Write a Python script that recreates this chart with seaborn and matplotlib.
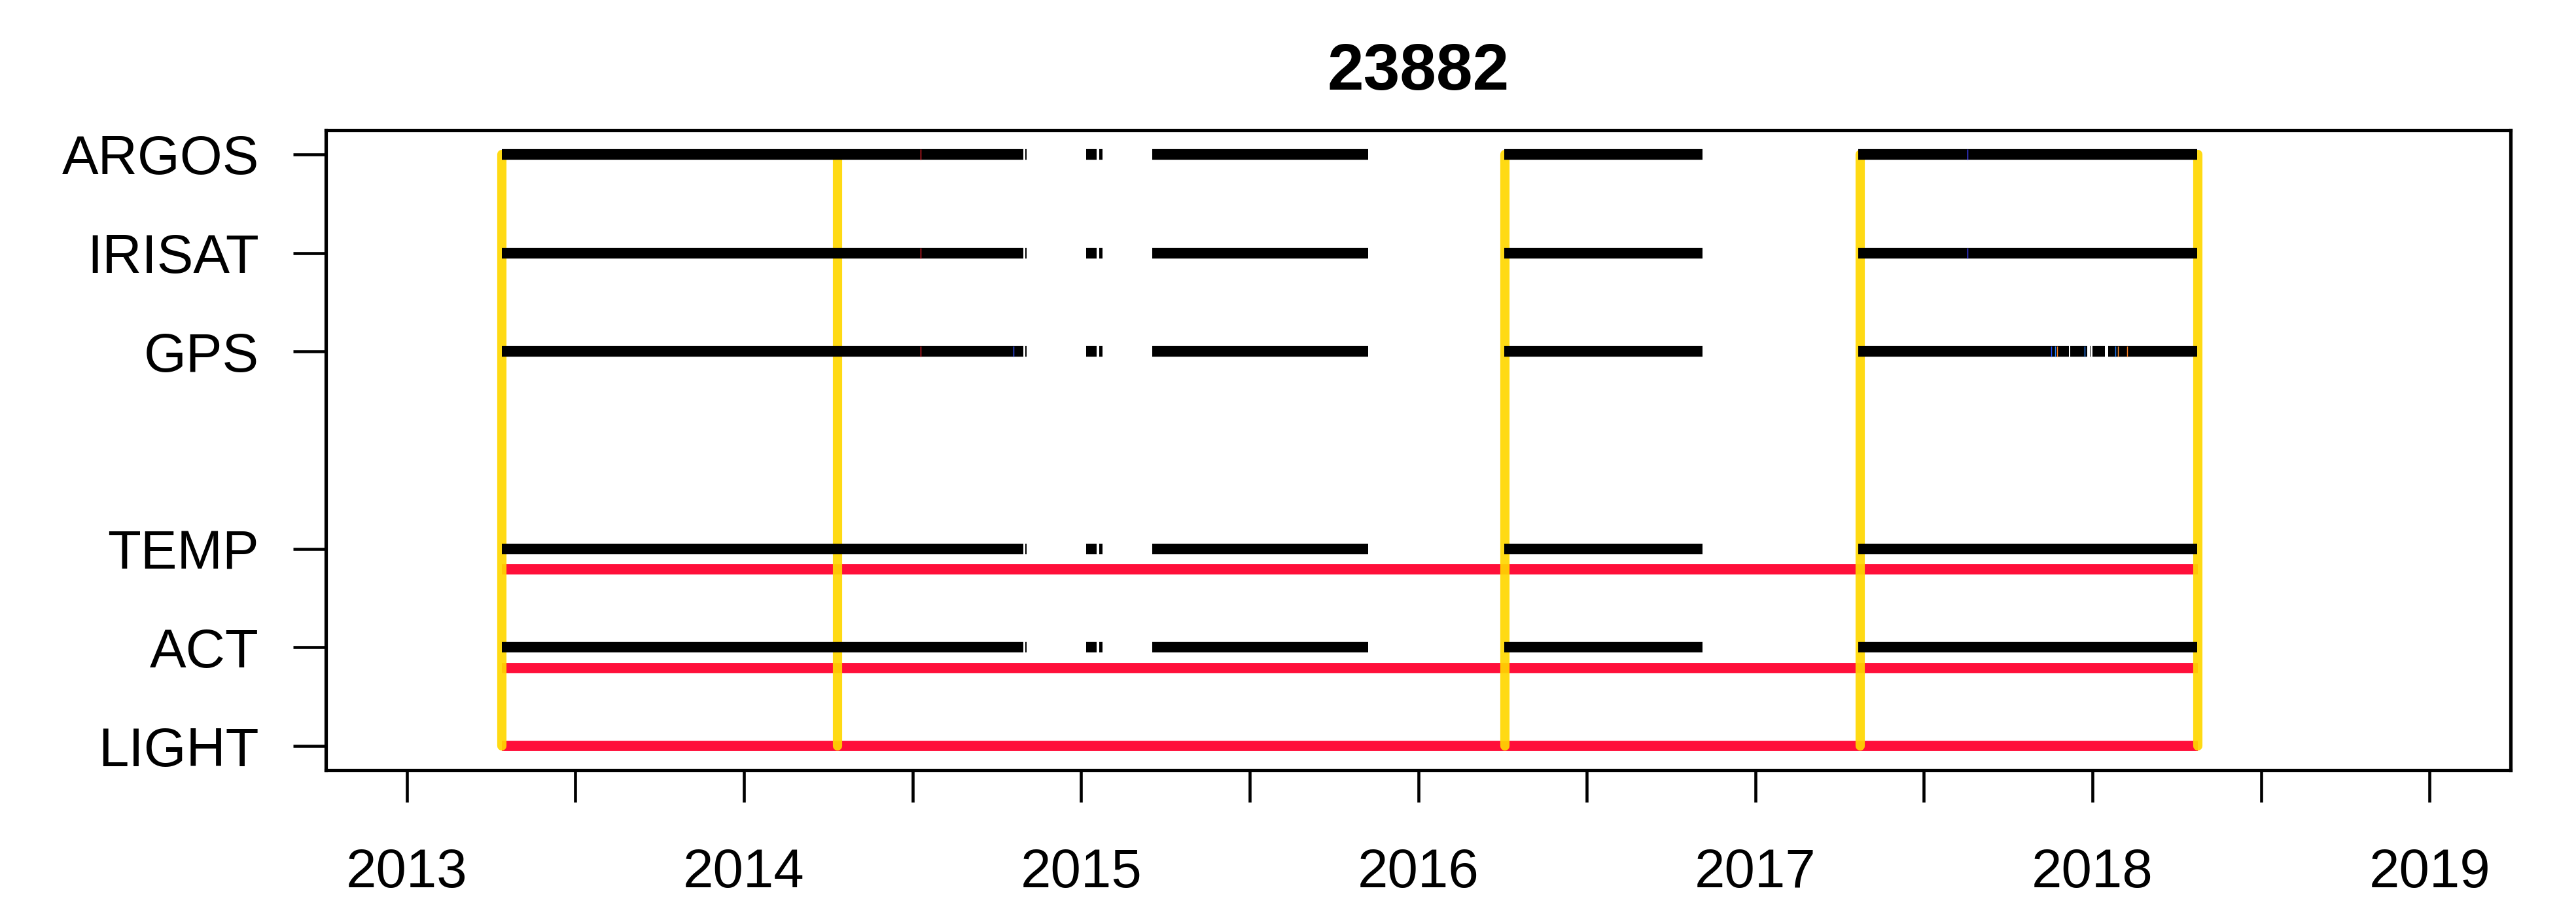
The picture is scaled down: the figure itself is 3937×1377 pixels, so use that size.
import matplotlib
matplotlib.use("Agg")
import matplotlib.pyplot as plt
import numpy as np
import pandas as pd
import seaborn as sns

TITLE = "23882"

# channel rows, top to bottom
ROWS = ["ARGOS", "IRISAT", "GPS", "TEMP", "ACT", "LIGHT"]
ROW_POS = {"ARGOS": 7, "IRISAT": 6, "GPS": 5, "TEMP": 3, "ACT": 2, "LIGHT": 1}

# tag deployment / retrieval dates (decimal years)
deploy_years = [2013.283, 2014.277, 2016.258, 2017.310, 2018.313]

# periods with data (decimal years), shared by the satellite-type channels
data_periods = [
    (2013.283, 2014.828),
    (2014.834, 2014.838),
    (2015.016, 2015.047),
    (2015.054, 2015.064),
    (2015.211, 2015.852),
    (2016.256, 2016.844),
    (2017.306, 2018.310),
]
# GPS had a few dropouts early 2018
gps_periods = [
    (2013.283, 2014.828),
    (2014.834, 2014.838),
    (2015.016, 2015.047),
    (2015.054, 2015.064),
    (2015.211, 2015.852),
    (2016.256, 2016.844),
    (2017.306, 2017.930),
    (2017.934, 2017.984),
    (2017.993, 2017.995),
    (2017.999, 2018.037),
    (2018.047, 2018.310),
]
black_channels = {
    "ARGOS": data_periods,
    "IRISAT": data_periods,
    "GPS": gps_periods,
    "TEMP": data_periods,
    "ACT": data_periods,
}

# continuous sensor records (red)
sensor_rows = ["TEMP", "ACT", "LIGHT"]
sensor_start = [2013.283, 2013.283, 2013.283]
sensor_end = [2018.313, 2018.313, 2018.313]

# odd single fixes that show up as thin coloured stripes
fix_rows = ["ARGOS", "IRISAT", "GPS", "GPS", "GPS", "GPS", "GPS", "GPS", "GPS", "GPS", "ARGOS", "IRISAT", "GPS"]
fix_years = [2014.524, 2014.524, 2014.524, 2017.878, 2017.889, 2017.895, 2017.976,
             2018.067, 2018.076, 2018.102, 2017.630, 2017.630, 2014.800]
fix_colors = ["#E0202A", "#E0202A", "#E0202A", "#2050FF", "#2080FF", "#FF8020", "#2080FF",
              "#2080FF", "#FF9030", "#FF8020", "#4040FF", "#4040FF", "#3050FF"]

year_ticks = np.arange(2013, 2019.01, 0.5)

RED_OFFSET = {"TEMP": -0.21, "ACT": -0.21, "LIGHT": 0.0}

sns.set_style("ticks")
plt.rcParams["font.family"] = ["Liberation Sans", "DejaVu Sans"]
plt.rcParams.update({
    "text.color": "black",
    "axes.labelcolor": "black",
    "xtick.color": "black",
    "ytick.color": "black",
    "axes.edgecolor": "black",
})

W, H, DPI = 3937, 1377, 300
fig, ax = plt.subplots(figsize=(W / DPI, H / DPI), dpi=DPI)
fig.subplots_adjust(left=498 / W, right=3837 / W, bottom=1 - 1177 / H, top=1 - 199 / H)

# long-form table of black segments for seaborn
recs = []
seg = 0
for ch, periods in black_channels.items():
    for a, b in periods:
        recs.append({"seg": seg, "year": a, "y": ROW_POS[ch]})
        recs.append({"seg": seg, "year": b, "y": ROW_POS[ch]})
        seg += 1
segs = pd.DataFrame(recs)

# red sensor lines
for row, a, b in zip(sensor_rows, sensor_start, sensor_end):
    ax.hlines(ROW_POS[row] + RED_OFFSET[row], a, b, colors="#FF0F3A", linewidth=3.8, zorder=2)

# deployments
vl = ax.vlines(deploy_years, ROW_POS["LIGHT"], ROW_POS["ARGOS"], colors="#FFD700",
               linewidth=3.4, zorder=3, alpha=0.92)
vl.set_capstyle("round")

sns.lineplot(data=segs, x="year", y="y", units="seg", estimator=None, sort=False,
             color="black", linewidth=3.9, solid_capstyle="butt", ax=ax, zorder=4, legend=False)

for row, yr, col in zip(fix_rows, fix_years, fix_colors):
    ax.vlines(yr, ROW_POS[row] - 0.053, ROW_POS[row] + 0.053, colors=col, linewidth=0.35, zorder=5)

ax.set_xlim(2012.76, 2019.24)
ax.set_ylim(0.755, 7.245)
ax.set_xticks(year_ticks)
ax.set_xticklabels([str(int(t)) if t == int(t) else "" for t in year_ticks])
ax.set_yticks([ROW_POS[r] for r in ROWS])
ax.set_yticklabels(ROWS)
ax.set_xlabel("")
ax.set_ylabel("")

ax.tick_params(axis="x", length=11.8, width=1.1, pad=16.5, labelsize=20, color="black", labelcolor="black")
ax.tick_params(axis="y", length=12, width=1.1, pad=12.5, labelsize=20, color="black", labelcolor="black")
for s in ax.spines.values():
    s.set_visible(True)
    s.set_linewidth(1.25)
    s.set_color("black")

fig.text((498 + 3837) / 2 / W, 1 - 137 / H, TITLE, ha="center", va="baseline",
         fontsize=24, fontweight="bold", color="black")

fig.savefig("out.png", dpi=DPI, facecolor="white")
